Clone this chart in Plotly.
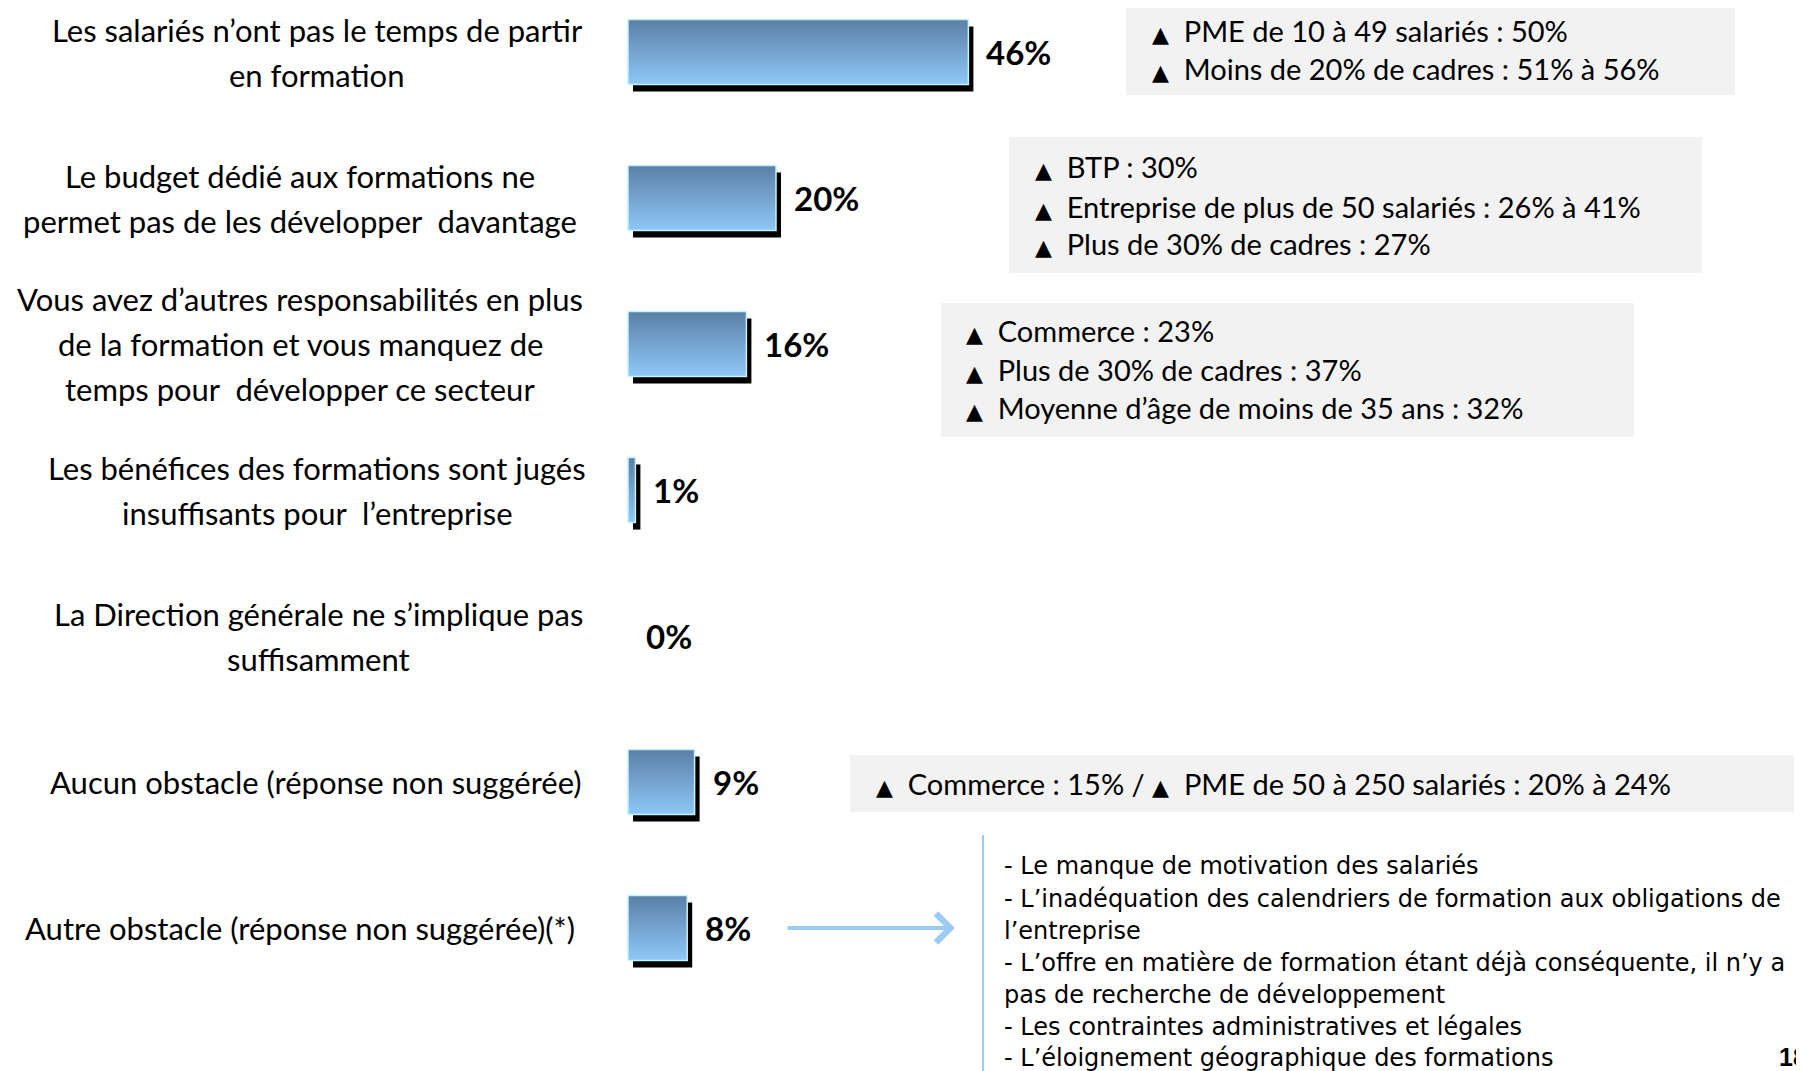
import plotly.graph_objects as go

# the page body keeps the browser's 8px margin, so the figure is drawn 8px in
PAGE_W, PAGE_H = 1804, 1071
OFF = 8
W, H = PAGE_W - OFF, PAGE_H - OFF

# --- data -------------------------------------------------------------
categories = [
    "Les salariés n’ont pas le temps de partir<br>en formation",
    "Le budget dédié aux formations ne<br>permet pas de les développer  davantage",
    "Vous avez d’autres responsabilités en plus<br>de la formation et vous manquez de<br>temps pour  développer ce secteur",
    "Les bénéfices des formations sont jugés<br>insuffisants pour  l’entreprise",
    "La Direction générale ne s’implique pas<br>suffisamment",
    "Aucun obstacle (réponse non suggérée)",
    "Autre obstacle (réponse non suggérée)(*)",
]
values = [46, 20, 16, 1, 0, 9, 8]

notes_temps = ["PME de 10 à 49 salariés : 50%", "Moins de 20% de cadres : 51% à 56%"]
notes_budget = ["BTP : 30%", "Entreprise de plus de 50 salariés : 26% à 41%", "Plus de 30% de cadres : 27%"]
notes_responsabilites = ["Commerce : 23%", "Plus de 30% de cadres : 37%", "Moyenne d’âge de moins de 35 ans : 32%"]
notes_aucun = ["Commerce : 15% / ▲ PME de 50 à 250 salariés : 20% à 24%"]

autres_obstacles = [
    "- Le manque de motivation des salariés",
    "- L’inadéquation des calendriers de formation aux obligations de",
    "l’entreprise",
    "- L’offre en matière de formation étant déjà conséquente, il n’y a",
    "pas de recherche de développement",
    "- Les contraintes administratives et légales",
    "- L’éloignement géographique des formations",
]
page_number = "18"

# --- geometry (pixels of the 1804x1071 page) ---------------------------
PX_PER_UNIT = 7.4
X0_PX = 628 - OFF
ROW0_PX = 52 - OFF
ROW_PX = 146
BAR_HALF = 0.223
SHADOW_DX = 5 / PX_PER_UNIT
SHADOW_DY = 7 / ROW_PX
label_centres_px = [317, 300, 300, 317, 318, 316, 300]
LABEL_LINE_PX = 45

TOP_C = "#5a7fa7"
BOT_C = "#8fc8f7"
EDGE_C = "#c4f2fb"
LIGHT_BLUE = "#9ccbf5"
TEXT_FONT = "Lato, DejaVu Sans, sans-serif"
TRI = "<span style='font-family:DejaVu Sans;font-size:22px'>▲</span>  "


def px(x):
    return (x - OFF) / W


def py(y):
    return 1 - (y - OFF) / H


fig = go.Figure()

for i, v in enumerate(values):
    yc = -i
    if v > 0:
        xs = [0, v, v, 0, 0]
        ys = [yc - BAR_HALF, yc - BAR_HALF, yc + BAR_HALF, yc + BAR_HALF, yc - BAR_HALF]
        fig.add_trace(go.Scatter(
            x=[x + SHADOW_DX for x in xs], y=[y - SHADOW_DY for y in ys],
            mode="lines", fill="toself", fillcolor="#000000",
            line=dict(color="#000000", width=0), hoverinfo="skip",
        ))
        fig.add_trace(go.Scatter(
            x=xs, y=ys, mode="lines", fill="toself",
            fillgradient=dict(type="vertical", colorscale=[[0, BOT_C], [1, TOP_C]]),
            line=dict(color=EDGE_C, width=1.5), hoverinfo="skip",
        ))
    fig.add_annotation(
        x=v, y=yc, text=f"<b>{v}%</b>", showarrow=False,
        xanchor="left", yanchor="middle", xshift=16,
        font=dict(family=TEXT_FONT, size=33, color="black"),
    )
    lines = categories[i].split("<br>")
    n = len(lines)
    for k, line in enumerate(lines):
        fig.add_annotation(
            xref="paper", x=px(label_centres_px[i]), y=yc, text=line,
            showarrow=False, xanchor="center", yanchor="middle",
            yshift=((n - 1) / 2 - k) * LABEL_LINE_PX,
            font=dict(family=TEXT_FONT, size=31, color="black"),
        )

# grey note boxes
boxes = [
    (1126, 1735, 0, 95, 1150, [30, 68], notes_temps),
    (1009, 1702, 137, 273, 1033, [167, 206, 244], notes_budget),
    (941, 1634, 303, 437, 964, [331, 369, 408], notes_responsabilites),
    (850, 1794, 755, 812, 874, [783], notes_aucun),
]
for x0, x1, y0, y1, tx, line_ys, notes in boxes:
    fig.add_shape(type="rect", xref="paper", yref="paper",
                  x0=px(x0), x1=px(x1), y0=py(y1), y1=py(max(y0, OFF)),
                  fillcolor="#f2f2f2", line=dict(width=0), layer="below")
    for ly, note in zip(line_ys, notes):
        note = note.replace("▲ ", TRI)
        fig.add_annotation(
            xref="paper", yref="paper", x=px(tx), y=py(ly), text=TRI + note,
            showarrow=False, xanchor="left", yanchor="middle",
            font=dict(family=TEXT_FONT, size=29, color="black"),
        )

# arrow and list of other obstacles
fig.add_annotation(
    xref="paper", yref="paper", x=px(955), y=py(928),
    axref="pixel", ayref="pixel", ax=-169, ay=0, text="",
    showarrow=True, arrowhead=4, arrowsize=1.4, arrowwidth=4, arrowcolor=LIGHT_BLUE,
)
fig.add_shape(type="line", xref="paper", yref="paper",
              x0=px(983), x1=px(983), y0=py(1071), y1=py(835),
              line=dict(color=LIGHT_BLUE, width=2))

list_ys = [866, 899, 931, 963, 995, 1027, 1058]
for ly, line in zip(list_ys, autres_obstacles):
    fig.add_annotation(
        xref="paper", yref="paper", x=px(1002), y=py(ly), text=line,
        showarrow=False, xanchor="left", yanchor="middle",
        font=dict(family="DejaVu Sans, sans-serif", size=24, color="black"),
    )

# page number, cut by the right edge as in the original slide
fig.add_annotation(
    xref="paper", yref="paper", x=px(1777), y=py(1057), text=f"<b>{page_number}</b>",
    showarrow=False, xanchor="left", yanchor="middle",
    font=dict(family="Liberation Sans, Arial, sans-serif", size=25, color="black"),
)

fig.update_layout(
    width=W, height=H,
    margin=dict(l=0, r=0, t=0, b=0),
    paper_bgcolor="white", plot_bgcolor="white",
    showlegend=False,
    xaxis=dict(range=[-X0_PX / PX_PER_UNIT, (W - X0_PX) / PX_PER_UNIT],
               visible=False, fixedrange=True),
    yaxis=dict(range=[-(H - ROW0_PX) / ROW_PX, ROW0_PX / ROW_PX],
               visible=False, fixedrange=True),
)

fig.write_html("out.html")
